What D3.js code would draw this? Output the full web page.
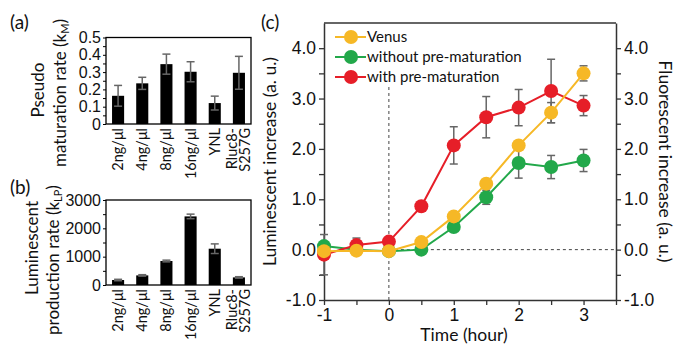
<!DOCTYPE html>
<html>
<head>
<meta charset="utf-8">
<script src="https://cdn.jsdelivr.net/npm/d3@7"></script>
<style>
  body { margin: 0; background: #fff; }
  svg { font-family: Lato, "Open Sans", sans-serif; }
</style>
</head>
<body>
<svg id="fig" width="675" height="344"></svg>
<script>
// ---- data ----
const categories = ["2ng/μl", "4ng/μl", "8ng/μl", "16ng/μl", "YNL", "Rluc8-|S257G"];
const maturationRate = [0.163, 0.235, 0.346, 0.302, 0.121, 0.296];
const maturationErr = [0.06, 0.035, 0.058, 0.058, 0.04, 0.095];
const productionRate = [176, 339, 847, 2421, 1281, 268];
const productionErr = [25, 25, 30, 80, 170, 25];

const timeHours = [-1, -0.5, 0, 0.5, 1, 1.5, 2, 2.5, 3];
const venus = [-0.03, -0.02, -0.03, 0.15, 0.66, 1.31, 2.07, 2.72, 3.50];
const venusErr = [0.05, 0.03, 0.03, 0.05, 0.05, 0.05, 0.05, 0.2, 0.15];
const withoutPre = [0.07, 0.0, -0.03, 0.0, 0.45, 1.04, 1.72, 1.64, 1.77];
const withoutPreErr = [0.05, 0.05, 0.05, 0.05, 0.05, 0.14, 0.3, 0.23, 0.22];
const withPre = [-0.1, 0.09, 0.16, 0.86, 2.07, 2.63, 2.82, 3.15, 2.86];
const withPreErr = [0.4, 0.14, 0.05, 0.05, 0.37, 0.41, 0.36, 0.63, 0.2];

const svg = d3.select("#fig");
const errColor = "#666";

// ---- bar panels (a) and (b) ----
function barPanel(opts) {
    const g = svg.append("g");
    const x = d3.scaleBand().domain(categories).range([106, 251]).paddingInner(0.5).paddingOuter(0.25);
    const y = d3.scaleLinear().domain(opts.domain).range([opts.bottom, opts.top]);

    // minor ticks
    const yAxis = d3.axisLeft(y).tickValues(opts.ticks).tickSize(3).tickFormat(d => opts.labels.includes(d) ? opts.fmt(d) : "");
    const ax = g.append("g").attr("transform", "translate(106,0)").call(yAxis);
    ax.select(".domain").remove();
    ax.selectAll("line").attr("stroke", "#000");
    ax.selectAll("text").attr("font-size", 16).attr("x", -5).attr("fill", "#111");

    // frame
    g.append("rect")
        .attr("x", 106).attr("y", opts.top)
        .attr("width", 145).attr("height", opts.bottom - opts.top)
        .attr("fill", "none").attr("stroke", "#000").attr("stroke-width", 1.3);

    const vals = opts.values;
    const errs = opts.errors;
    g.selectAll(".bar").data(categories).join("rect")
        .attr("x", d => x(d))
        .attr("width", x.bandwidth())
        .attr("y", (d, i) => y(vals[i]))
        .attr("height", (d, i) => opts.bottom - y(vals[i]))
        .attr("fill", "#000");

    categories.forEach((c, i) => {
        const cx = x(c) + x.bandwidth() / 2;
        const y1 = y(vals[i] + errs[i]), y2 = y(vals[i] - errs[i]);
        g.append("line").attr("x1", cx).attr("x2", cx).attr("y1", y1).attr("y2", y2)
            .attr("stroke", errColor).attr("stroke-width", 1.5);
        [y1, y2].forEach(yy => g.append("line")
            .attr("x1", cx - 4).attr("x2", cx + 4).attr("y1", yy).attr("y2", yy)
            .attr("stroke", errColor).attr("stroke-width", 1.5));

        // rotated category labels
        const parts = c.split("|");
        parts.forEach((p, k) => {
            const off = (k - (parts.length - 1) / 2) * 13;
            g.append("text")
                .attr("transform", `translate(${cx + off + 5},${opts.bottom + 4}) rotate(-90)`)
                .attr("text-anchor", "end")
                .attr("font-size", 14.5)
                .attr("fill", "#111")
                .text(p);
        });
    });

    // y title (two lines)
    opts.title.forEach(t => {
        const txt = g.append("text")
            .attr("transform", `translate(${t.x},${t.y}) rotate(-90)`)
            .attr("text-anchor", "middle")
            .attr("font-size", 17)
            .attr("fill", "#111")
            .text(t.text);
        if (t.sub) {
            txt.append("tspan").attr("font-size", 11).attr("dy", 3).text(t.sub);
            txt.append("tspan").attr("dy", -3).text(")");
        }
    });

    g.append("text").attr("x", 10).attr("y", opts.labelY).attr("font-size", 19).attr("fill", "#111").text(opts.panel);
}

barPanel({
    panel: "(a)", labelY: 29,
    domain: [0, 0.5], top: 37.5, bottom: 124,
    ticks: d3.range(0, 0.5001, 0.05).map(v => +v.toFixed(2)),
    labels: [0, 0.1, 0.2, 0.3, 0.4, 0.5],
    fmt: d => d === 0 ? "0" : d3.format(".1f")(d),
    values: maturationRate, errors: maturationErr,
    title: [
        { x: 44, y: 90, text: "Pseudo" },
        { x: 66, y: 93, text: "maturation rate (k", sub: "M" }
    ]
});

barPanel({
    panel: "(b)", labelY: 194,
    domain: [0, 3000], top: 200, bottom: 285,
    ticks: d3.range(0, 3001, 500),
    labels: [0, 1000, 2000, 3000],
    fmt: d => String(d),
    values: productionRate, errors: productionErr,
    title: [
        { x: 38, y: 248, text: "Luminescent" },
        { x: 59, y: 260, text: "production rate (k", sub: "LP" }
    ]
});

// ---- panel (c) ----
const gc = svg.append("g");
const xc = d3.scaleLinear().domain([-1, 3.5]).range([324, 616]);
const yc = d3.scaleLinear().domain([-1, 4.5]).range([300, 23]);

// frame top line
gc.append("line").attr("x1", xc(-1)).attr("x2", xc(3.5)).attr("y1", yc(4.5)).attr("y2", yc(4.5))
    .attr("stroke", "#333").attr("stroke-width", 1.5);

const yTicks = d3.range(-1, 4.01, 0.5);
const fmt1 = d => Number.isInteger(d) ? d3.format(".1f")(d).replace("−", "-") : "";

const left = gc.append("g").attr("transform", `translate(${xc(-1)},0)`)
    .call(d3.axisLeft(yc).tickValues(yTicks).tickSize(5).tickSizeOuter(0).tickFormat(fmt1));
const right = gc.append("g").attr("transform", `translate(${xc(3.5)},0)`)
    .call(d3.axisRight(yc).tickValues(yTicks).tickSize(5).tickSizeOuter(0).tickFormat(fmt1));
const bottom = gc.append("g").attr("transform", `translate(0,${yc(-1)})`)
    .call(d3.axisBottom(xc).tickValues(d3.range(-1, 3.51, 0.5)).tickSize(5).tickSizeOuter(0)
        .tickFormat(d => Number.isInteger(d) ? String(d) : ""));
[left, right, bottom].forEach(a => {
    a.select(".domain").attr("stroke", "#333").attr("stroke-width", 1.5);
    a.selectAll("line").attr("stroke", "#333").attr("stroke-width", 1.3);
    a.selectAll("text").attr("font-size", 17.5).attr("fill", "#111");
});
left.selectAll("text").attr("x", -8);
right.selectAll("text").attr("x", 8);
bottom.selectAll("text").attr("y", 9);

// dashed reference lines
gc.append("line").attr("x1", xc(0)).attr("x2", xc(0)).attr("y1", 87).attr("y2", yc(-1))
    .attr("stroke", "#444").attr("stroke-dasharray", "3,3");
gc.append("line").attr("x1", xc(0)).attr("x2", xc(3.5)).attr("y1", yc(0)).attr("y2", yc(0))
    .attr("stroke", "#444").attr("stroke-dasharray", "3,3");

const series = [
    { name: "without pre-maturation", values: withoutPre, errors: withoutPreErr, color: "#22a84a" },
    { name: "with pre-maturation", values: withPre, errors: withPreErr, color: "#e61e28" },
    { name: "Venus", values: venus, errors: venusErr, color: "#f6b826" }
];

// error bars first
series.forEach(s => {
    timeHours.forEach((t, i) => {
        const cx = xc(t);
        const y1 = yc(s.values[i] + s.errors[i]), y2 = yc(s.values[i] - s.errors[i]);
        gc.append("line").attr("x1", cx).attr("x2", cx).attr("y1", y1).attr("y2", y2)
            .attr("stroke", errColor).attr("stroke-width", 1.5);
        [y1, y2].forEach(yy => gc.append("line")
            .attr("x1", cx - 4).attr("x2", cx + 4).attr("y1", yy).attr("y2", yy)
            .attr("stroke", errColor).attr("stroke-width", 1.5));
    });
});

const line = d3.line().x((d, i) => xc(timeHours[i])).y(d => yc(d));
series.forEach(s => {
    gc.append("path").datum(s.values).attr("d", line)
        .attr("fill", "none").attr("stroke", s.color).attr("stroke-width", 2);
    gc.selectAll(null).data(s.values).join("circle")
        .attr("cx", (d, i) => xc(timeHours[i]))
        .attr("cy", d => yc(d))
        .attr("r", 7)
        .attr("fill", s.color);
});

// legend
const legendOrder = [series[2], series[0], series[1]];
legendOrder.forEach((s, k) => {
    const ly = 37 + k * 20;
    gc.append("line").attr("x1", 335).attr("x2", 366).attr("y1", ly).attr("y2", ly)
        .attr("stroke", s.color).attr("stroke-width", 2);
    gc.append("circle").attr("cx", 351).attr("cy", ly).attr("r", 7).attr("fill", s.color);
    gc.append("text").attr("x", 367).attr("y", ly).attr("dy", "0.35em")
        .attr("font-size", 15).attr("fill", "#111").text(s.name);
});

// titles
gc.append("text").attr("transform", `translate(276,${(yc(4.5) + yc(-1)) / 2}) rotate(-90)`)
    .attr("text-anchor", "middle").attr("font-size", 17.5).attr("fill", "#111")
    .text("Luminescent increase (a. u.)");
gc.append("text").attr("transform", `translate(659,${(yc(4.5) + yc(-1)) / 2}) rotate(90)`)
    .attr("text-anchor", "middle").attr("font-size", 17.5).attr("fill", "#111")
    .text("Fluorescent increase (a. u.)");
gc.append("text").attr("x", 464).attr("y", 341).attr("text-anchor", "middle")
    .attr("font-size", 17.5).attr("fill", "#111").text("Time (hour)");
gc.append("text").attr("x", 261).attr("y", 29).attr("font-size", 19).attr("fill", "#111").text("(c)");
</script>
</body>
</html>
